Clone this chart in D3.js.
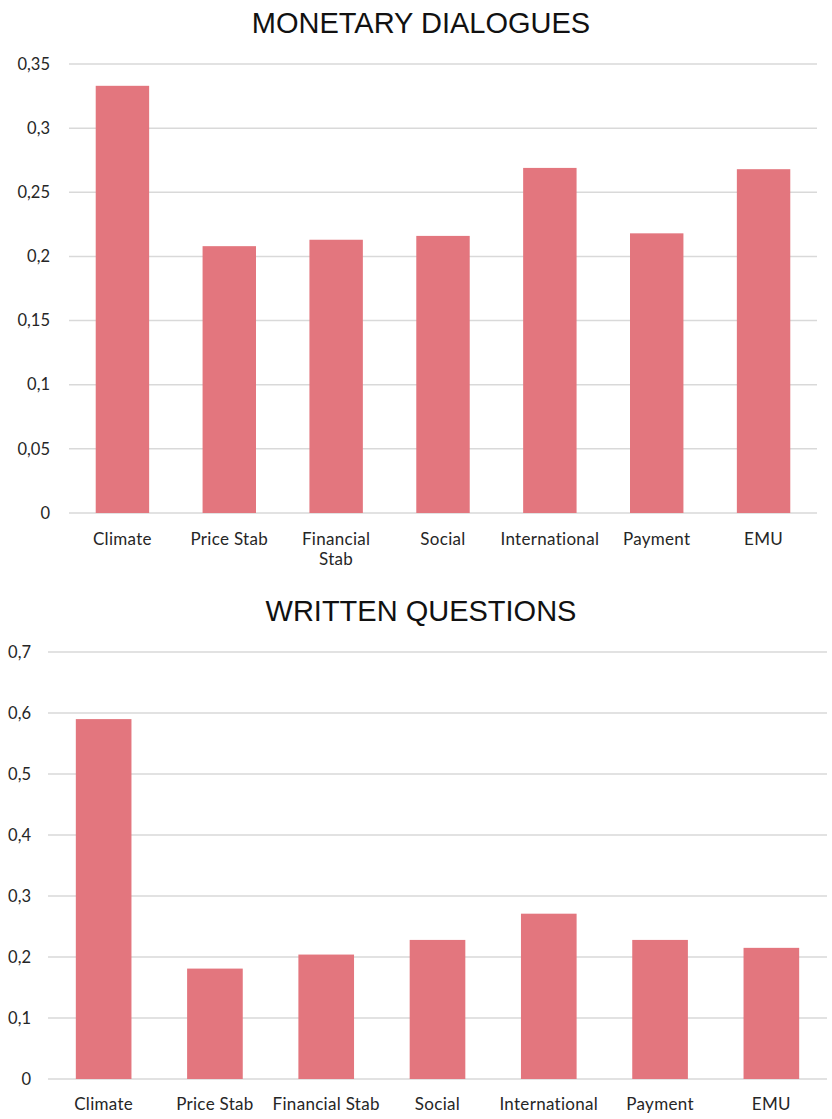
<!DOCTYPE html>
<html>
<head>
<meta charset="utf-8">
<script src="https://cdn.jsdelivr.net/npm/d3@7"></script>
<style>
  body { margin: 0; background: #fff; }
  svg { display: block; }
</style>
</head>
<body>
<div id="chart"></div>
<script>
// Données
const categories = ['Climate', 'Price Stab', 'Financial Stab', 'Social', 'International', 'Payment', 'EMU'];
const monetaryValues = [0.333, 0.208, 0.213, 0.216, 0.269, 0.218, 0.268];
const writtenValues = [0.590, 0.181, 0.204, 0.228, 0.271, 0.228, 0.215];
const monetaryTicks = [0, 0.05, 0.1, 0.15, 0.2, 0.25, 0.3, 0.35];
const writtenTicks = [0, 0.1, 0.2, 0.3, 0.4, 0.5, 0.6, 0.7];

const W = 832, H = 1119;
const svg = d3.select('#chart').append('svg').attr('width', W).attr('height', H);

const fmt = d => String(d).replace('.', ',');

function drawPanel(opts) {
  const { title, titleY, values, ticks, x0, x1, yTop, yBottom, tickX, labelY, wrap } = opts;
  const x = d3.scaleBand().domain(categories).range([x0, x1]).padding(0.5).paddingOuter(0.25);
  const y = d3.scaleLinear().domain([0, ticks[ticks.length - 1]]).range([yBottom, yTop]);

  svg.append('text').attr('x', 421).attr('y', titleY)
    .attr('text-anchor', 'middle').attr('font-family', 'Liberation Sans, Arial, sans-serif')
    .attr('font-size', '29px').attr('fill', '#111').text(title);

  // Grid
  svg.append('g').selectAll('line').data(ticks).join('line')
    .attr('x1', x0).attr('x2', x1)
    .attr('y1', d => y(d)).attr('y2', d => y(d))
    .attr('stroke', '#d9d9d9').attr('stroke-width', 1.5);

  // Y labels
  svg.append('g').selectAll('text').data(ticks).join('text')
    .attr('x', tickX).attr('y', d => y(d)).attr('dy', '0.35em')
    .attr('text-anchor', 'end').attr('font-family', 'Lato, sans-serif')
    .attr('font-size', '16.5px').attr('fill', '#262626')
    .text(fmt);

  // Bars
  svg.append('g').selectAll('rect').data(values).join('rect')
    .attr('x', (d, i) => x(categories[i])).attr('width', x.bandwidth())
    .attr('y', d => y(d)).attr('height', d => y(0) - y(d))
    .attr('fill', '#e3767e');

  // X labels
  const lbl = svg.append('g').selectAll('text').data(categories).join('text')
    .attr('x', d => x(d) + x.bandwidth() / 2).attr('y', labelY)
    .attr('text-anchor', 'middle').attr('font-family', 'Lato, sans-serif')
    .attr('font-size', '17px').attr('letter-spacing', '0.3px').attr('fill', '#262626');
  lbl.each(function (d) {
    const t = d3.select(this);
    const parts = (wrap && d === 'Financial Stab') ? ['Financial', 'Stab'] : [d];
    parts.forEach((p, k) => t.append('tspan').attr('x', t.attr('x')).attr('dy', k ? '1.2em' : 0).text(p));
  });
}

drawPanel({
  title: 'MONETARY DIALOGUES', titleY: 33, values: monetaryValues, ticks: monetaryTicks,
  x0: 69, x1: 817, yTop: 64, yBottom: 513, tickX: 50, labelY: 545, wrap: true
});

drawPanel({
  title: 'WRITTEN QUESTIONS', titleY: 621, values: writtenValues, ticks: writtenTicks,
  x0: 48, x1: 827, yTop: 652, yBottom: 1079, tickX: 31, labelY: 1110, wrap: false
});
</script>
</body>
</html>
